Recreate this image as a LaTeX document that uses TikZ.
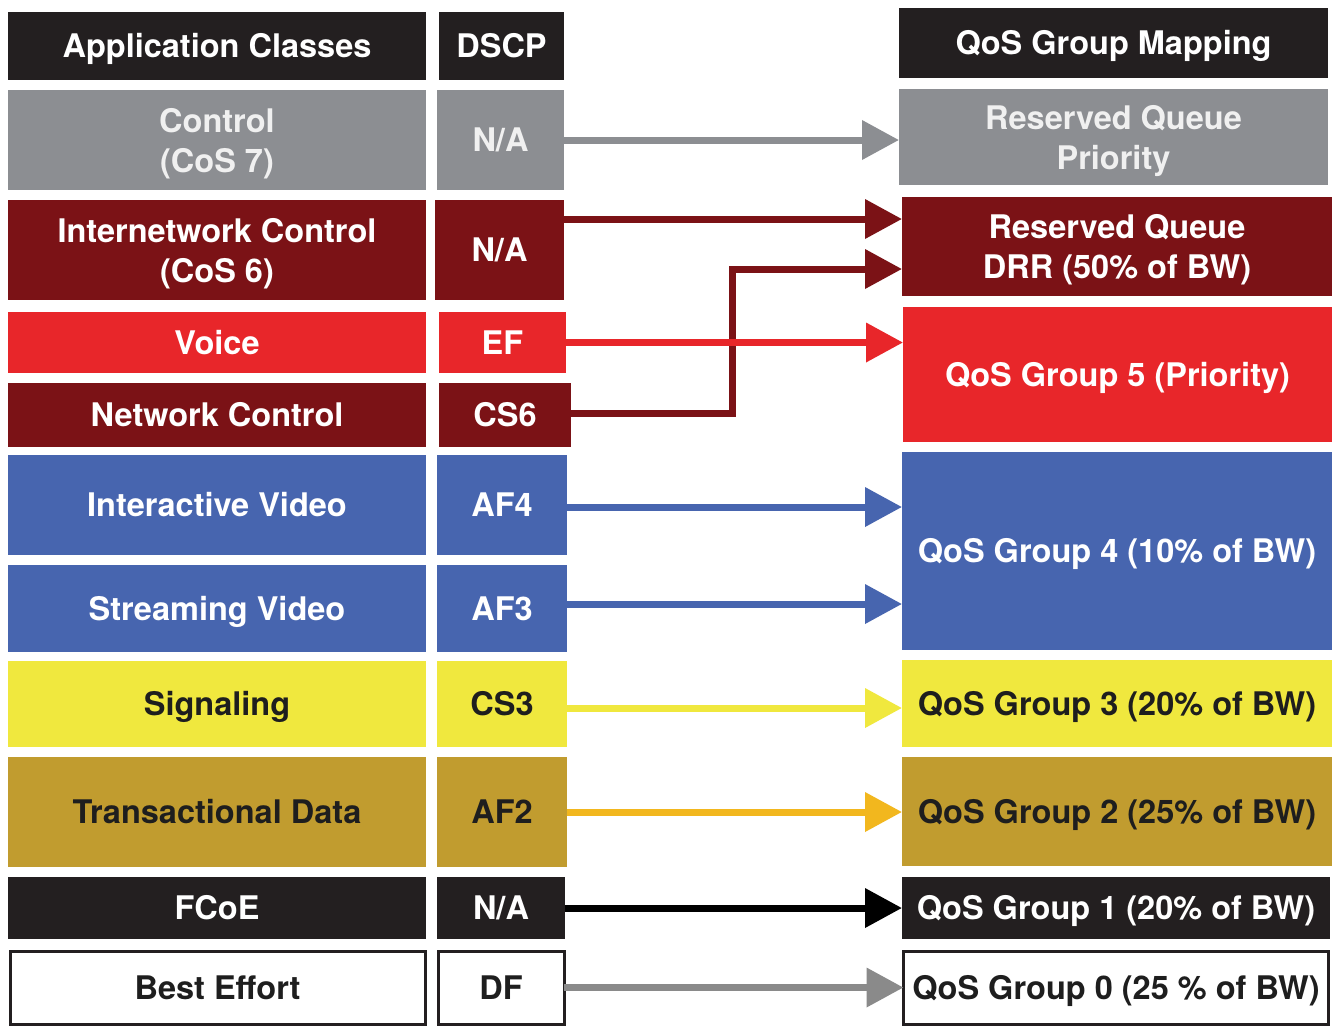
\documentclass[tikz,border=0pt]{standalone}
\usepackage{fontspec}
\setmainfont{TeX Gyre Heros}
\usetikzlibrary{arrows.meta}
\definecolor{hdblack}{HTML}{231F20}
\definecolor{cgray}{HTML}{8C8E92}
\definecolor{dred}{HTML}{7B1216}
\definecolor{vred}{HTML}{E8262A}
\definecolor{vblue}{HTML}{4765AF}
\definecolor{syellow}{HTML}{F0E83E}
\definecolor{tgold}{HTML}{C19C2F}
\definecolor{aorange}{HTML}{F2B71E}
\definecolor{dfgray}{HTML}{8A8A8A}
\definecolor{dtext}{HTML}{1E1E1E}
\newcommand\bxfont{\fontsize{32.5}{40}\selectfont\bfseries}
\begin{document}
\begin{tikzpicture}[x=1pt,y=-1pt,
  box/.style={rectangle, inner sep=0pt, outer sep=0pt, align=center, font=\bxfont, text=white},
  one/.style={text height=23.4pt, text depth=0pt},
  arr/.style={line width=7pt, -{Triangle[length=37pt,width=38pt]}}]
\useasboundingbox[fill=white] (0,0) rectangle (1332,1029);
% headers
\node[box,one,fill=hdblack,minimum width=418pt,minimum height=68pt] (hdA) at (217,46) {Application Classes};
\node[box,one,fill=hdblack,minimum width=125pt,minimum height=68pt] (hdD) at (501.5,46) {DSCP};
\node[box,one,fill=hdblack,minimum width=429pt,minimum height=70pt] (hdQ) at (1113.5,43) {QoS Group Mapping};
% control
\node[box,fill=cgray,text=white!94!black,minimum width=418pt,minimum height=100pt] (cA) at (217,140) {Control\\\smash{(CoS 7)}};
\node[box,one,fill=cgray,text=white!94!black,minimum width=127pt,minimum height=100pt] (cD) at (500.5,140) {N/A};
\node[box,fill=cgray,text=white!94!black,minimum width=429pt,minimum height=96pt] (cQ) at (1113.5,137) {Reserved Queue\\\smash{Priority}};
% internetwork control
\node[box,fill=dred,minimum width=418pt,minimum height=100pt] (iA) at (217,250) {Internetwork Control\\\smash{(CoS 6)}};
\node[box,one,fill=dred,minimum width=129pt,minimum height=100pt] (iD) at (499.5,250) {N/A};
\node[box,fill=dred,minimum width=430pt,minimum height=99pt] (iQ) at (1117,246.5) {Reserved Queue\\\smash{DRR (50\% of BW)}};
% voice
\node[box,one,fill=vred,minimum width=418pt,minimum height=61pt] (vA) at (217,342.5) {Voice};
\node[box,one,fill=vred,minimum width=127pt,minimum height=61pt] (vD) at (502.5,342.5) {EF};
% network control
\node[box,one,fill=dred,minimum width=418pt,minimum height=64pt] (nA) at (217,415) {Network Control};
\node[box,one,fill=dred,minimum width=132pt,minimum height=64pt] (nD) at (505,415) {CS6};
\node[box,one,fill=vred,minimum width=429pt,minimum height=135pt] (g5) at (1117.5,374.5) {QoS Group 5 (Priority)};
% video
\node[box,one,fill=vblue,minimum width=418pt,minimum height=100pt] (ivA) at (217,505) {Interactive Video};
\node[box,one,fill=vblue,minimum width=130pt,minimum height=100pt] (ivD) at (502,505) {AF4};
\node[box,one,fill=vblue,minimum width=418pt,minimum height=87pt] (svA) at (217,608.5) {Streaming Video};
\node[box,one,fill=vblue,minimum width=130pt,minimum height=87pt] (svD) at (502,608.5) {AF3};
\node[box,one,fill=vblue,minimum width=430pt,minimum height=198pt] (g4) at (1117,551) {QoS Group 4 (10\% of BW)};
% signaling
\node[box,one,fill=syellow,text=dtext,minimum width=418pt,minimum height=86pt] (sA) at (217,704) {Signaling};
\node[box,one,fill=syellow,text=dtext,minimum width=130pt,minimum height=86pt] (sD) at (502,704) {CS3};
\node[box,one,fill=syellow,text=dtext,minimum width=430pt,minimum height=87pt] (g3) at (1117,703.5) {QoS Group 3 (20\% of BW)};
% transactional
\node[box,one,fill=tgold,text=dtext,minimum width=418pt,minimum height=110pt] (tA) at (217,812) {Transactional Data};
\node[box,one,fill=tgold,text=dtext,minimum width=130pt,minimum height=110pt] (tD) at (502,812) {AF2};
\node[box,one,fill=tgold,text=dtext,minimum width=430pt,minimum height=109pt] (g2) at (1117,811.5) {QoS Group 2 (25\% of BW)};
% FCoE
\node[box,one,fill=hdblack,minimum width=418pt,minimum height=62pt] (fA) at (217,908) {FCoE};
\node[box,one,fill=hdblack,minimum width=128pt,minimum height=62pt] (fD) at (501,908) {N/A};
\node[box,one,fill=hdblack,minimum width=428pt,minimum height=62pt] (g1) at (1116,908) {QoS Group 1 (20\% of BW)};
% best effort
\node[box,one,fill=white,draw=hdblack,line width=3pt,text=dtext,minimum width=415pt,minimum height=73pt] (bA) at (217.5,987.5) {Best Effort};
\node[box,one,fill=white,draw=hdblack,line width=3pt,text=dtext,minimum width=126pt,minimum height=73pt] (bD) at (501,987.5) {DF};
\node[box,one,fill=white,draw=hdblack,line width=3pt,text=dtext,minimum width=425pt,minimum height=73pt] (g0) at (1116,987.5) {QoS Group 0 (25 \% of BW)};
% connectors
\draw[arr,draw=cgray] (cD.east |- 0,140) -- (cQ.west |- 0,140);
\draw[arr,draw=dred] (iD.east |- 0,219) -- (iQ.west |- 0,219);
\coordinate (bend) at (732,269);
\draw[arr,draw=dred] (nD.east |- 0,413) -| (bend) -- (iQ.west |- bend);
\draw[arr,draw=vred] (vD.east) -- (g5.west |- vD.east);
\draw[arr,draw=vblue] (ivD.east |- 0,507) -- (g4.west |- 0,507);
\draw[arr,draw=vblue] (svD.east |- 0,604) -- (g4.west |- 0,604);
\draw[arr,draw=syellow] (sD.east |- 0,708) -- (g3.west |- 0,708);
\draw[arr,draw=aorange] (tD.east) -- (g2.west |- tD.east);
\draw[arr,draw=black] (fD.east) -- (g1.west |- fD.east);
\draw[arr,draw=dfgray] (bD.east) -- (g0.west |- bD.east);
\end{tikzpicture}
\end{document}
